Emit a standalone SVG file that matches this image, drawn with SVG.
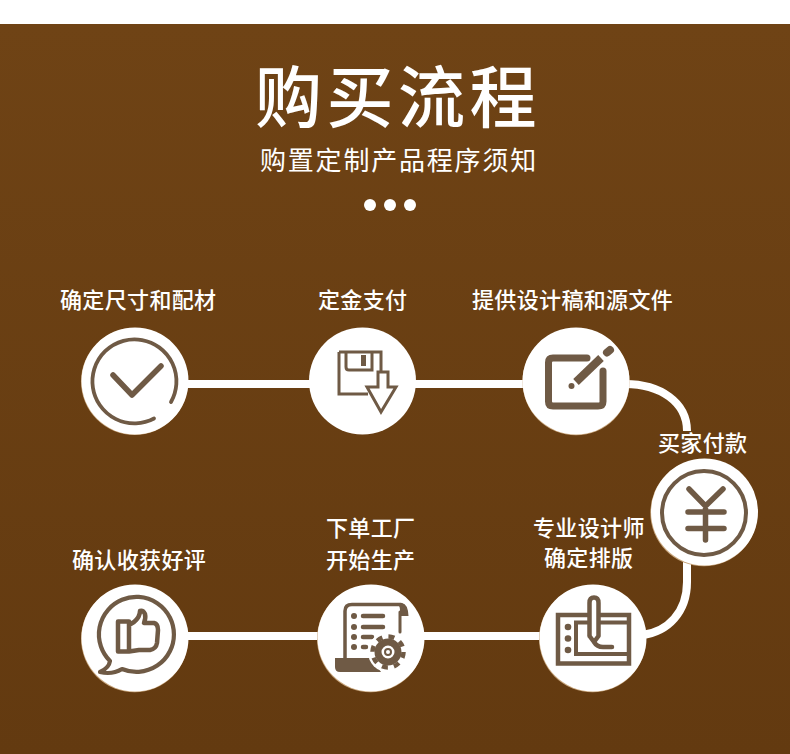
<svg xmlns="http://www.w3.org/2000/svg" width="790" height="754" viewBox="0 0 790 754">
<style>
text{font-family:"Noto Sans CJK SC","Noto Sans",sans-serif;fill:#fff}
.t{font-size:67px;font-weight:500;letter-spacing:4.500px}
.s{font-size:26px;letter-spacing:1.800px}
.l{font-size:22px;font-weight:500;letter-spacing:.35px}
.b{fill:#c9a77e}
.c{fill:#fff}
.i{fill:none;stroke:#6f5a45;stroke-linecap:round;stroke-linejoin:round}
.f{fill:#6f5a45;stroke:none}
.k{fill:none;stroke:#fff;stroke-width:8}
</style>
<defs><linearGradient id="bg" x1="0" y1="0" x2="0" y2="1"><stop offset="0" stop-color="#6f4315"/><stop offset="1" stop-color="#633a10"/></linearGradient></defs>
<rect width="790" height="754" fill="#fff"/>
<rect y="24" width="790" height="730" fill="url(#bg)"/>
<g id="title">
<text class="t" x="255" y="122">购买流程</text>
<text class="s" x="260" y="170">购置定制产品程序须知</text>
<circle cx="370" cy="205" r="6" fill="#fff"/><circle cx="390" cy="205" r="6" fill="#fff"/><circle cx="410" cy="205" r="6" fill="#fff"/>
</g>
<g id="connectors">
<path class="k" d="M180 384H530"/>
<path class="k" d="M625 384C660 384 687 402 687 431"/>
<path class="k" d="M687 560V582C687 612 668 632 642 635"/>
<path class="k" d="M180 636H550"/>
</g>
<g id="n1"><circle class="b" cx="134.500" cy="381.500" r="53.500"/><circle class="c" cx="135" cy="381" r="53.500"/>
<path class="i" style="stroke-width:3.800" d="M171 402A42 42 0 1 0 154 418.500"/>
<path class="i" style="stroke-width:5.500" d="M113 375L132 395L161 366"/>
<text class="l" x="60" y="308">确定尺寸和配材</text></g>
<g id="n2"><circle class="c" cx="362.500" cy="381" r="53.500"/>
<path class="i" style="stroke-width:3;stroke-linecap:butt;stroke-linejoin:miter" d="M339 352H381V372M339 352V394H368M346 352V367Q346 370 349 370H372V352M378 372H388V387H396L381 412L367 387H378Z"/>
<rect class="f" x="361" y="355" width="5" height="11"/>
<text class="l" x="318" y="308">定金支付</text></g>
<g id="n3"><circle class="b" cx="576" cy="381.800" r="53.500"/><circle class="c" cx="576" cy="381" r="53.500"/>
<path class="i" style="stroke-width:7" d="M587 358H553Q548.500 358 548.500 362.500V401.500Q548.500 406 553 406H598Q603 406 603 401.500V371"/>
<path class="i" style="stroke-width:8;stroke-linecap:butt" d="M576 382L601 358"/>
<path class="i" style="stroke-width:8" d="M607 352.500L610 350"/>
<circle class="f" cx="571.500" cy="386" r="3"/>
<text class="l" x="472" y="308">提供设计稿和源文件</text></g>
<g id="n4"><circle class="b" cx="703.800" cy="512.800" r="53.500"/><circle class="c" cx="704.500" cy="512" r="53.500"/>
<circle class="i" style="stroke-width:4" cx="704" cy="513" r="42"/>
<path class="i" style="stroke-width:5.500" d="M689 489L705.500 506L723 489M705.500 506V540M688 512H724M688 528.500H724"/>
<text class="l" x="658" y="451">买家付款</text></g>
<g id="n5"><circle class="b" cx="592.500" cy="638.800" r="53.500"/><circle class="c" cx="593" cy="638" r="53.500"/>
<path class="i" style="stroke-width:4.500;stroke-linecap:butt;stroke-linejoin:miter" d="M588 615H558V663.500H629V615H600"/>
<path class="i" style="stroke-width:4;stroke-linecap:butt;stroke-linejoin:miter" d="M588 622.500H576V654H627M600 622.500H629"/>
<circle class="f" cx="568" cy="627" r="3.300"/><circle class="f" cx="568" cy="638.500" r="3.300"/><circle class="f" cx="568" cy="650" r="3.300"/>
<path class="i" style="stroke-width:4.500" d="M589.500 636V603Q589.500 597.500 594 597.500Q598.500 597.500 598.500 603V636L594 642L589.500 636M594 642Q597 647 603 647H612"/>
<text class="l" x="533" y="536">专业设计师</text><text class="l" x="544" y="566">确定排版</text></g>
<g id="n6"><circle class="b" cx="370.500" cy="638.800" r="53.500"/><circle class="c" cx="371" cy="638" r="53.500"/>
<path class="i" style="stroke-width:3.500" d="M345 659V611Q345 604.500 352 604.500H401"/>
<path class="f" d="M396 603H402Q408 604 408.500 616H400V610Q400 605 396 603Z"/>
<path class="i" style="stroke-width:3" d="M400 612V632"/>
<path class="f" d="M335 658H372L381 672H340Q335 672 335 667Z"/>
<path class="i" style="stroke-width:4.500" d="M363 616H383M363 627H383M363 637H372M363 647H366"/>
<circle class="f" cx="354" cy="616" r="3"/><circle class="f" cx="354" cy="627" r="3"/><circle class="f" cx="354" cy="637" r="3"/><circle class="f" cx="354" cy="647" r="3"/>
<circle cx="388" cy="652" r="20" fill="#fff"/>
<circle cx="388" cy="652" r="10" fill="none" stroke="#6f5a45" stroke-width="7"/>
<circle cx="388" cy="652" r="15.500" fill="none" stroke="#6f5a45" stroke-width="4.500" stroke-dasharray="6 6.170"/>
<circle cx="388" cy="652" r="3" fill="none" stroke="#6f5a45" stroke-width="2"/>
<text class="l" x="326" y="536">下单工厂</text><text class="l" x="326" y="568">开始生产</text></g>
<g id="n7"><circle class="b" cx="134.500" cy="638.800" r="53.500"/><circle class="c" cx="135" cy="638" r="53.500"/>
<path class="i" style="stroke-width:4.200" d="M100 672Q109 668 110 661A37.500 37.500 0 1 1 122 669Q112 675 100 672Z"/>
<path class="i" style="stroke-width:4.500" d="M118 621.500H129V651.500H118ZM129 625L134 622Q140 617 140 611Q143 610 145 614Q146 618 144 623H154Q158 624 158 630L157 643Q156 649 150 650H139L129 651.500"/>
<text class="l" x="72" y="568">确认收获好评</text></g>
</svg>
